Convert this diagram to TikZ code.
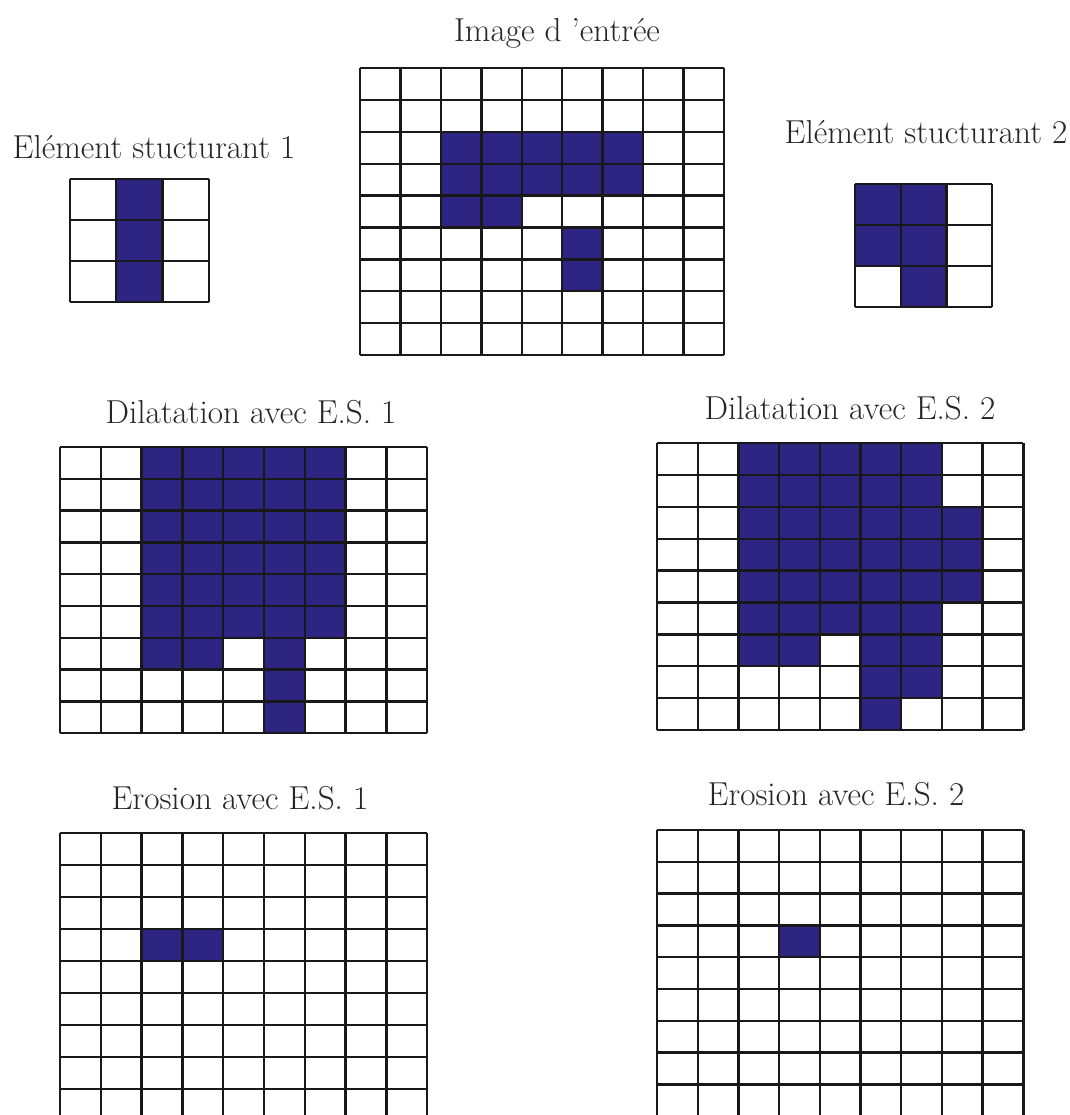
\documentclass[tikz,border=0pt]{standalone}

\definecolor{esblue}{RGB}{46,37,131}

% #1,#2 top left corner, #3,#4 cell size, #5 cols, #6 rows,
% #7 filled runs as row/first col/last col
\newcommand\pixgrid[7]{%
  \foreach \r/\a/\b in {#7}
    \fill[pixon] ({#1+\a*#3},{#2+\r*#4}) rectangle ({#1+(\b+1)*#3},{#2+(\r+1)*#4});
  \foreach \k in {0,...,#5}
    \draw[gridline] ({#1+\k*#3},#2) -- ({#1+\k*#3},{#2+#6*#4});
  \foreach \k in {0,...,#6}
    \draw[gridline] (#1,{#2+\k*#4}) -- ({#1+#5*#3},{#2+\k*#4});
}

\begin{document}
\begin{tikzpicture}[
  x=0.02cm, y=-0.02cm,
  pixon/.style    = {fill=esblue},
  gridline/.style = {line width=1.35pt, color=black!90, line cap=square},
  title/.style    = {anchor=base, inner sep=0pt, text=black!85,
                     font=\fontsize{18.9}{22}\selectfont},
]
  \useasboundingbox (0,0) rectangle (1070,1115);
  \clip (0,0) rectangle (1070,1115);

  \node[title] (tin)   at (557,42)  {Image d ’entrée};
  \node[title] (tes1)  at (154,158) {Elément stucturant 1};
  \node[title] (tes2)  at (926,143) {Elément stucturant 2};
  \node[title] (tdil1) at (251,423) {Dilatation avec E.S. 1};
  \node[title] (tdil2) at (850,419) {Dilatation avec E.S. 2};
  \node[title] (tero1) at (240,809) {Erosion avec E.S. 1};
  \node[title] (tero2) at (836,805) {Erosion avec E.S. 2};

  % input image and the two structuring elements
  \pixgrid{360}{68}{40.44}{31.9}{9}{9}{2/2/6,3/2/6,4/2/3,5/5/5,6/5/5}
  \pixgrid{70}{179}{46.3}{41}{3}{3}{0/1/1,1/1/1,2/1/1}
  \pixgrid{855}{184}{45.7}{41}{3}{3}{0/0/1,1/0/1,2/1/1}

  % dilations
  \pixgrid{60}{447}{40.8}{31.8}{9}{9}{0/2/6,1/2/6,2/2/6,3/2/6,4/2/6,5/2/6,6/2/3,6/5/5,7/5/5,8/5/5}
  \pixgrid{657}{443}{40.7}{31.9}{9}{9}{0/2/6,1/2/6,2/2/7,3/2/7,4/2/7,5/2/6,6/2/3,6/5/6,7/5/6,8/5/5}

  % erosions, cut by the page edge
  \pixgrid{60}{833}{40.8}{32}{9}{9}{3/2/3}
  \pixgrid{657}{830}{40.7}{31.8}{9}{9}{3/3/3}
\end{tikzpicture}
\end{document}
